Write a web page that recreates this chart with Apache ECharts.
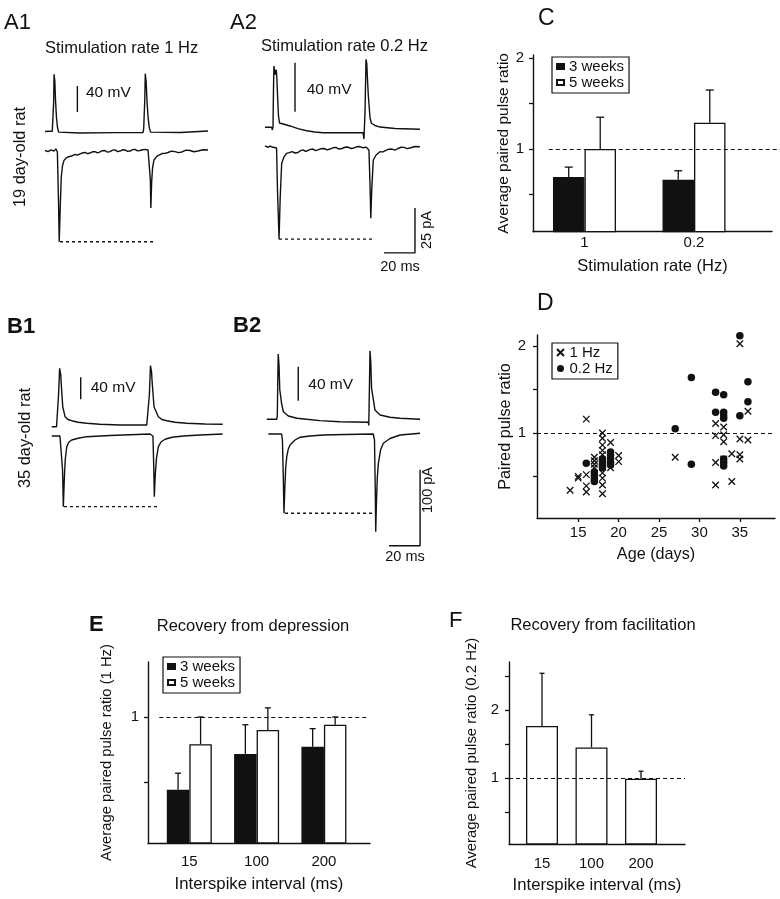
<!DOCTYPE html>
<html><head><meta charset="utf-8">
<script src="https://cdn.jsdelivr.net/npm/echarts@6/dist/echarts.min.js"></script>
<style>html,body{margin:0;padding:0;background:#fff}#c{width:780px;height:899px}</style>
</head><body><div id="c"></div>
<script>
// ===================== DATA =====================
// Traces: [time (ms) from first stimulus, membrane potential (mV from rest)] and [time (ms), current (pA)]
const a1Vm = [[-5.5,0],[-3,0.3],[-0.8,0.2],[-0.5,-2.3],[-0.2,0.5],[0.1,45],[0.35,88],[0.55,90],[0.85,78],[1.3,48],[1.9,22],[2.6,6],[3.3,-1],[4.5,-2.3],[17,-2.3],[40,-1.8],[57.8,-1.5],[58.2,4.5],[58.6,6],[58.9,50],[59.2,89],[59.45,90],[59.8,76],[60.3,48],[61,22],[61.8,6],[62.6,-1],[63.8,-2.3],[82,-1.5],[99.7,0.8]];
const a1Im = [[-5.5,0],[-4.5,0.6],[-3.5,-0.6],[-2.5,0.2],[-1.6,0.3],[-0.5,-0.4],[0.3,-0.3],[1.6,0.8],[2.5,-0.8],[3.2,-27],[3.7,-50.7],[4.4,-30],[5.0,-15],[5.8,-8.5],[6.8,-5.5],[8.1,-4.2],[9.4,-3.6],[10.6,-3.1],[12.2,-2.9],[13.9,-2.2],[15.5,-2.6],[17.1,-1.9],[18.7,-1.4],[20.3,-1.1],[21.9,-1.8],[23.5,-1.4],[25.1,-0.7],[26.8,-0.6],[28.4,-1.3],[30,-0.8],[31.6,-0.1],[33.2,0],[34.8,-0.9],[36.5,-0.6],[38.1,0.2],[39.7,0.3],[41.3,-0.6],[42.9,-0.3],[44.5,0.4],[46.1,0.3],[47.7,-0.5],[49.4,-0.3],[51,0.5],[52.6,0.6],[54.2,-0.2],[55.8,0],[57.4,0.4],[59,0.6],[61,0.3],[61.6,1.1],[62.1,-0.8],[62.5,-16.4],[62.8,-32],[63.3,-18],[63.9,-9.7],[64.8,-5.3],[66.8,-3.1],[68.4,-2.4],[70,-1.7],[72,-1.6],[73.9,-1.1],[76,-0.4],[78.4,-0.6],[80.6,-1.2],[82.9,-0.8],[85.5,0.2],[88.1,0],[90.6,-0.7],[93.2,-0.3],[96.4,0.4],[99.7,0.3]];
const a2Vm = [[-5.2,0],[-0.8,0],[-0.5,-2.2],[0,0.2],[0.3,30],[0.6,50],[1.0,49],[1.4,43],[1.7,45],[2.1,47],[2.5,40],[2.8,30],[3.5,10],[4.2,3.5],[6.5,2.7],[11,1.1],[16.1,-1.1],[21.7,-2.8],[27.1,-3.8],[32.3,-4.4],[45,-4.5],[58.1,-4.4],[58.7,-9.6],[59.4,14],[60,55.5],[60.5,52],[61,38],[61.5,26],[62.6,7.6],[63.5,3.3],[65.8,1.5],[69,0.2],[78.7,-1],[94.8,-1.6]];
const a2Im = [[-5.2,0.4],[-4.2,-0.3],[-3.2,-0.4],[-1.9,0.4],[-0.6,-0.2],[0.6,0.7],[2.3,-0.7],[2.9,-24],[3.9,-51.4],[4.6,-29.6],[5.6,-9.2],[7.1,-5.7],[8.8,-3.7],[10.5,-3.3],[12.3,-2.7],[14.2,-3.5],[16.1,-3.2],[17.8,-2.2],[19.4,-1.8],[21,-2.6],[22.6,-2.1],[24.2,-1.5],[25.8,-1.3],[27.4,-2.2],[29,-1.8],[31,-1.1],[32.9,-1],[34.9,-1.8],[36.8,-1.3],[38.7,-0.6],[40.6,-0.4],[42.6,-1.3],[44.5,-1],[46.4,-0.3],[48.4,-0.2],[50.3,-1],[52.3,-0.7],[54.2,0],[56.1,0.1],[58,-0.6],[60,-0.2],[61,0.9],[61.9,-1.8],[62.6,-21.3],[63.1,-39.8],[63.7,-24],[64.7,-7.4],[66.5,-4.6],[69,-2.8],[70.9,-2.9],[72.9,-2.1],[74.8,-1.4],[76.8,-1.3],[78.7,-1.9],[80.6,-1],[82.6,-0.3],[84.5,-0.4],[86.5,-1.1],[88.4,-0.7],[91.6,0.1],[94.8,0]];
const b1Vm = [[-3.6,0],[-0.5,0],[0,3],[0.8,57.6],[1.5,106],[1.8,109],[2.2,95],[2.6,75.8],[3.5,36.4],[5,18.2],[6.9,13.1],[9.3,10.9],[13.4,8],[19,6.2],[27.5,4.4],[40.5,3.1],[57.7,3.1],[58.3,6.7],[59.4,57.6],[60.1,111],[60.4,114],[60.8,100],[61.1,85],[62.4,36.4],[65.2,18.2],[67.5,13.1],[70.6,10.9],[75.9,8],[83.5,6.2],[95.3,4.9],[106.7,4.4]];
const b1Im = [[-3.6,0],[1.7,0],[2.8,-2.6],[3.4,-44.7],[3.9,-93],[4.5,-57.9],[5.1,-31.6],[6.1,-14.1],[7.5,-7.9],[9.3,-5.3],[13.4,-3],[19,-0.9],[34,0.7],[59.8,2.6],[61.7,0],[62.2,-38.2],[62.6,-79.9],[63.2,-51.3],[64,-28.9],[65.2,-14.1],[66.9,-7.9],[69.5,-4.3],[74,-1.7],[81.3,0],[92.1,1.3],[106.7,2.6]];
const b2Vm = [[-6.6,0],[-0.2,0],[0.2,3.9],[0.5,46.2],[0.8,76.8],[1.3,63.9],[1.8,34.5],[2.4,26.6],[2.9,19.2],[4.1,8.9],[7.3,3.9],[12.9,1.2],[19.2,0],[27.7,-1.6],[40.6,-2.8],[58.9,-3.5],[59.2,-7.3],[59.6,34.5],[60,80.7],[60.5,67.4],[61,36.8],[61.7,28.6],[62.4,20.4],[63.2,10.9],[66.5,5.1],[72.9,2.4],[79.4,1.2],[92.3,0]];
const b2Im = [[-5.6,0],[3,0],[3.5,-7.9],[4.1,-60.5],[4.5,-104.3],[5,-73.7],[5.6,-44.7],[6.3,-29.9],[7.3,-19.7],[8.4,-14.5],[11.6,-7.9],[14.8,-4.3],[21.3,-2.6],[29.9,-1.3],[43.9,-0.7],[62.1,0],[62.9,-7.9],[63.4,-73.7],[63.7,-128.6],[64.2,-86.8],[64.7,-57.9],[65.4,-38.6],[66.8,-21.1],[68.6,-12.2],[72.9,-5.9],[79.4,-1.3],[92.3,0.9]];
const scaleMv = 40, scalePaA = 25, scalePaB = 100, scaleMs = 20;

// C: average paired pulse ratio vs stimulation rate
const rateCategories = ['1', '0.2'];
const rate3wkMean = [0.69, 0.66];
const rate3wkSem  = [0.11, 0.10];
const rate5wkMean = [1.00, 1.29];
const rate5wkSem  = [0.35, 0.36];

// D: paired pulse ratio vs age (days)
const age1Hz = [[14,0.34],[15,0.50],[15,0.48],[16,1.16],[16,0.52],[16,0.39],[16,0.32],[17,0.72],[17,0.68],[17,0.64],[17,0.60],
  [18,1.00],[18,0.94],[18,0.86],[18,0.80],[18,0.75],[18,0.69],[18,0.61],[18,0.54],[18,0.48],[18,0.40],[18,0.30],
  [19,0.89],[19,0.60],[20,0.74],[20,0.67],[27,0.72],[32,1.11],[32,0.97],[32,0.66],[32,0.40],[33,1.07],[33,0.98],[33,0.90],[33,0.70],
  [34,0.76],[34,0.44],[35,2.03],[35,0.93],[35,0.75],[35,0.70],[36,1.25],[36,0.92]];
const age02Hz = [[16,0.65],[17,0.55],[17,0.51],[17,0.47],[17,0.44],[18,0.70],[18,0.67],[18,0.63],[18,0.60],
  [19,0.78],[19,0.74],[19,0.70],[19,0.66],[19,0.63],[27,1.05],[29,1.64],[29,0.64],[32,1.47],[32,1.24],
  [33,1.44],[33,1.24],[33,1.20],[33,1.17],[33,0.70],[33,0.66],[33,0.62],[35,2.12],[35,1.20],[36,1.59],[36,1.36]];

// E / F: recovery vs interspike interval
const intervalCategories = ['15', '100', '200'];
const dep3wkMean = [0.44, 0.715, 0.77];
const dep3wkSem  = [0.127, 0.225, 0.14];
const dep5wkMean = [0.79, 0.90, 0.94];
const dep5wkSem  = [0.21, 0.17, 0.06];
const facMean = [1.765, 1.45, 0.99];
const facSem  = [0.775, 0.48, 0.11];

// ===================== CHART =====================
const FONT = '"Liberation Sans", Arial, Helvetica, sans-serif';
const INK = '#111';
const chart = echarts.init(document.getElementById('c'), null, {renderer: 'canvas'});
const grids = [], xAxes = [], yAxes = [], series = [];

function addGrid(rect, xa, ya) {
  const gi = grids.length;
  grids.push(Object.assign({outerBoundsMode: 'none', containLabel: false}, rect));
  xAxes.push(Object.assign({gridIndex: gi}, xa));
  yAxes.push(Object.assign({gridIndex: gi}, ya));
  return gi;
}
const hidden = (min, max) => ({type: 'value', min, max, show: false, splitLine: {show: false}});
const traceLine = (gi, data, extra) => Object.assign({
  type: 'line', xAxisIndex: gi, yAxisIndex: gi, data, symbol: 'none', showSymbol: false,
  silent: true, animation: false, lineStyle: {color: INK, width: 1.4}, z: 3
}, extra || {});

const traces = [
  {v: a1Vm, i: a1Im, left: 38, vR: [-20, 100], vTop: 66.5, vH: 78, iR: [-60, 10], iTop: 132.5, iH: 126, dash: [4.2, 65.5], mv: {t: 15.4, v0: 30}},
  {v: a2Vm, i: a2Im, left: 257.5, vR: [-20, 60], vTop: 53.8, vH: 98, iR: [-65, 10], iTop: 128.7, iH: 135, dash: [3.9, 64.5], mv: {t: 14.2, v0: 12.7}, pa: {t: 91.6, i0: -59, amp: scalePaA}},
  {v: b1Vm, i: b1Im, left: 41.8, vR: [-20, 120], vTop: 360.7, vH: 77, iR: [-130, 10], iTop: 428.4, iH: 106.4, dash: [4.3, 64.5], mv: {t: 15.1, v0: 49.8}},
  {v: b2Vm, i: b2Im, left: 261.5, vR: [-20, 90], vTop: 342.8, vH: 93.5, iR: [-150, 10], iTop: 426.4, iH: 121.6, dash: [5.2, 62.1], mv: {t: 13.7, v0: 21.9}, pa: {t: 92.3, i0: -147, amp: scalePaB}}
];
traces.forEach(tr => {
  const tR = [-10, 110];
  const gv = addGrid({left: tr.left, top: tr.vTop, width: 186, height: tr.vH}, hidden(tR[0], tR[1]), hidden(tr.vR[0], tr.vR[1]));
  const gc = addGrid({left: tr.left, top: tr.iTop, width: 186, height: tr.iH}, hidden(tR[0], tR[1]), hidden(tr.iR[0], tr.iR[1]));
  series.push(traceLine(gv, tr.v));
  series.push(traceLine(gc, tr.i));
  const peak = Math.min(...tr.i.filter(p => p[0] < 30).map(p => p[1]));
  series.push(traceLine(gc, [[tr.dash[0], peak], [tr.dash[1], peak]], {lineStyle: {color: INK, width: 1.3, type: [3, 3]}, z: 2}));
  series.push(traceLine(gv, [[tr.mv.t, tr.mv.v0], [tr.mv.t, tr.mv.v0 + scaleMv]], {lineStyle: {color: INK, width: 1.4}}));
  if (tr.pa) {
    series.push(traceLine(gc, [[tr.pa.t - scaleMs, tr.pa.i0], [tr.pa.t, tr.pa.i0], [tr.pa.t, tr.pa.i0 + tr.pa.amp]], {lineStyle: {color: INK, width: 1.4}}));
  }
});

const axisLine = {show: true, onZero: false, lineStyle: {color: INK, width: 1.4}};
const lab = (vals, margin, fmt) => ({show: true, customValues: vals, margin, color: INK, fontFamily: FONT, fontSize: 15, formatter: fmt});
const tick = (vals) => ({show: true, customValues: vals, length: 4, inside: false, lineStyle: {color: INK, width: 1.3}});
const nameStyle = (size) => ({color: INK, fontFamily: FONT, fontSize: size});

function errorBars(gi, means, sems, offset, cap) {
  return {
    type: 'custom', xAxisIndex: gi, yAxisIndex: gi, silent: true, z: 1, animation: false,
    data: means.map((m, k) => [k, m, m + sems[k]]),
    renderItem(params, api) {
      const base = api.coord([api.value(0), api.value(1)]);
      const top = api.coord([api.value(0), api.value(2)]);
      const cx = base[0] + offset;
      const st = {stroke: INK, lineWidth: 1.3};
      return {type: 'group', children: [
        {type: 'line', shape: {x1: cx, y1: base[1], x2: cx, y2: top[1]}, style: st},
        {type: 'line', shape: {x1: cx - cap, y1: top[1], x2: cx + cap, y2: top[1]}, style: st}
      ]};
    }
  };
}
const refLine = (x0, x1) => ({silent: true, symbol: 'none', animation: false, label: {show: false},
  lineStyle: {type: [4, 3], color: INK, width: 1.2}, data: [[{coord: [x0, 1]}, {coord: [x1, 1]}]]});

// ---- C ----
const gC = addGrid({left: 533, top: 55, width: 239, height: 176.7},
  {type: 'value', min: -0.47, max: 1.712, axisLine, axisTick: {show: false}, splitLine: {show: false},
   axisLabel: lab([0, 1], 4, v => rateCategories[Math.round(v)]),
   name: 'Stimulation rate (Hz)', nameLocation: 'middle', nameGap: 26, nameTextStyle: nameStyle(16.5)},
  {type: 'value', min: 0.088, max: 2.036, axisLine, axisTick: tick([0.5, 1, 1.5, 2]), splitLine: {show: false},
   axisLabel: lab([1, 2], 9, v => String(v)),
   name: 'Average paired pulse ratio', nameLocation: 'middle', nameGap: 19, nameTextStyle: nameStyle(15.5)});
series.push({type: 'bar', name: '3 weeks', xAxisIndex: gC, yAxisIndex: gC, barWidth: 31.5, barGap: '0%', animation: false,
  data: rate3wkMean.map((v, k) => [k, v]), itemStyle: {color: INK, borderColor: INK, borderWidth: 1.3}});
series.push({type: 'bar', name: '5 weeks', xAxisIndex: gC, yAxisIndex: gC, barWidth: 31.5, barGap: '0%', animation: false,
  data: rate5wkMean.map((v, k) => [k, v]), itemStyle: {color: '#fff', borderColor: INK, borderWidth: 1.3},
  markLine: refLine(-0.47, 1.648)});
series.push(errorBars(gC, rate3wkMean, rate3wkSem, -15.75, 4));
series.push(errorBars(gC, rate5wkMean, rate5wkSem, 15.75, 4));

// ---- D ----
const gD = addGrid({left: 537, top: 335, width: 238, height: 183},
  {type: 'value', min: 9.9, max: 39.35, axisLine, axisTick: tick([15, 20, 25, 30, 35]), splitLine: {show: false},
   axisLabel: lab([15, 20, 25, 30, 35], 7, v => String(v)),
   name: 'Age (days)', nameLocation: 'middle', nameGap: 29, nameTextStyle: nameStyle(16.2)},
  {type: 'value', min: 0.02, max: 2.13, axisLine, axisTick: tick([0.5, 1, 1.5, 2]), splitLine: {show: false},
   axisLabel: lab([1, 2], 11, v => String(v)),
   name: 'Paired pulse ratio', nameLocation: 'middle', nameGap: 22, nameTextStyle: nameStyle(16.3)});
series.push({type: 'scatter', name: '1 Hz', xAxisIndex: gD, yAxisIndex: gD, data: age1Hz, animation: false,
  symbol: 'path://M0,0L10,10M10,0L0,10', symbolSize: 6.5,
  itemStyle: {color: 'rgba(0,0,0,0)', borderColor: INK, borderWidth: 1.3, opacity: 1},
  markLine: refLine(9.9, 39.35)});
series.push({type: 'scatter', name: '0.2 Hz', xAxisIndex: gD, yAxisIndex: gD, data: age02Hz, animation: false,
  symbol: 'circle', symbolSize: 7.5, itemStyle: {color: INK, opacity: 1}});

// ---- E ----
const gE = addGrid({left: 148, top: 662, width: 222, height: 181},
  {type: 'value', min: -0.614, max: 2.685, axisLine, axisTick: {show: false}, splitLine: {show: false},
   axisLabel: lab([0, 1, 2], 11, v => intervalCategories[Math.round(v)]),
   name: 'Interspike interval (ms)', nameLocation: 'middle', nameGap: 33, nameTextStyle: nameStyle(16.7)},
  {type: 'value', min: 0.03, max: 1.423, axisLine, axisTick: tick([0.5, 1]), splitLine: {show: false},
   axisLabel: lab([1], 9, v => String(v)),
   name: 'Average paired pulse ratio (1 Hz)', nameLocation: 'middle', nameGap: 34, nameTextStyle: nameStyle(14.8)});
series.push({type: 'bar', name: '3 weeks', xAxisIndex: gE, yAxisIndex: gE, barWidth: 22.5, barGap: '0%', animation: false,
  data: dep3wkMean.map((v, k) => [k, v]), itemStyle: {color: INK, borderColor: INK, borderWidth: 1.3}});
series.push({type: 'bar', name: '5 weeks', xAxisIndex: gE, yAxisIndex: gE, barWidth: 22.5, barGap: '0%', animation: false,
  data: dep5wkMean.map((v, k) => [k, v]), itemStyle: {color: '#fff', borderColor: INK, borderWidth: 1.3},
  markLine: refLine(-0.614, 2.49)});
series.push(errorBars(gE, dep3wkMean, dep3wkSem, -11.25, 3));
series.push(errorBars(gE, dep5wkMean, dep5wkSem, 11.25, 3));

// ---- F ----
const gF = addGrid({left: 509, top: 662, width: 176, height: 182},
  {type: 'value', min: -0.667, max: 2.889, axisLine, axisTick: {show: false}, splitLine: {show: false},
   axisLabel: lab([0, 1, 2], 12, v => intervalCategories[Math.round(v)]),
   name: 'Interspike interval (ms)', nameLocation: 'middle', nameGap: 33, nameTextStyle: nameStyle(16.7)},
  {type: 'value', min: 0.03, max: 2.706, axisLine, axisTick: tick([0.5, 1, 1.5, 2, 2.5]), splitLine: {show: false},
   axisLabel: lab([1, 2], 10, v => String(v)),
   name: 'Average paired pulse ratio (0.2 Hz)', nameLocation: 'middle', nameGap: 30, nameTextStyle: nameStyle(14.9)});
series.push({type: 'bar', name: 'facilitation', xAxisIndex: gF, yAxisIndex: gF, barWidth: 32, animation: false,
  data: facMean.map((v, k) => [k, v]), itemStyle: {color: '#fff', borderColor: INK, borderWidth: 1.3},
  markLine: refLine(-0.667, 2.889)});
series.push(errorBars(gF, facMean, facSem, 0, 2.5));

// ---- legends ----
const legendBase = {orient: 'vertical', itemGap: 1, selectedMode: false, borderColor: INK, borderWidth: 1.2,
  textStyle: {color: INK, fontFamily: FONT, fontSize: 15}};
const legends = [
  Object.assign({}, legendBase, {data: ['3 weeks', '5 weeks'], left: 552, top: 57, icon: 'rect', itemWidth: 7, itemHeight: 5, padding: [2, 5, 3, 4]}),
  Object.assign({}, legendBase, {data: ['1 Hz', '0.2 Hz'], left: 552, top: 343, itemWidth: 8, itemHeight: 7, padding: [2, 5, 3, 4]}),
  Object.assign({}, legendBase, {data: ['3 weeks', '5 weeks'], left: 163, top: 657, icon: 'rect', itemWidth: 7, itemHeight: 5, padding: [2, 5, 3, 4]})
];

// ---- free text ----
function txt(text, x, y, size, o) {
  o = o || {};
  return {type: 'text', x, y, rotation: o.rot || 0, silent: true, z: 10,
    style: {text, fill: INK, fontFamily: FONT, fontSize: size, fontWeight: o.bold ? 'bold' : 'normal',
      align: o.align || 'left', verticalAlign: 'middle', textAlign: o.align || 'left', textVerticalAlign: 'middle'}};
}
const R = Math.PI / 2;
const graphics = [
  txt('A1', 4, 23, 22), txt('A2', 230, 23, 22), txt('C', 538, 19, 23),
  txt('B1', 7, 327, 22, {bold: true}), txt('B2', 233, 326, 22, {bold: true}), txt('D', 537, 304, 23),
  txt('E', 89, 625, 22, {bold: true}), txt('F', 449, 621, 22),
  txt('Stimulation rate 1 Hz', 45, 48, 16.5), txt('Stimulation rate 0.2 Hz', 261, 46, 16.5),
  txt('40 mV', 86, 93, 15.5), txt('40 mV', 306.7, 89.3, 15.5), txt('40 mV', 90.7, 387.3, 15.5), txt('40 mV', 308.3, 385, 15.5),
  txt('19 day-old rat', 20, 157, 16.4, {rot: R, align: 'center'}),
  txt('35 day-old rat', 25, 438, 16.4, {rot: R, align: 'center'}),
  txt('25 pA', 427, 230, 14.5, {rot: R, align: 'center'}), txt('20 ms', 400, 267, 14.5, {align: 'center'}),
  txt('100 pA', 428, 490, 14.5, {rot: R, align: 'center'}), txt('20 ms', 405, 557, 14.5, {align: 'center'}),
  txt('Recovery from depression', 253, 626, 16.5, {align: 'center'}),
  txt('Recovery from facilitation', 603, 625, 16.5, {align: 'center'})
];

chart.setOption({
  backgroundColor: '#fff', animation: false,
  grid: grids, xAxis: xAxes, yAxis: yAxes, series, legend: legends, graphic: graphics
});
</script></body></html>
